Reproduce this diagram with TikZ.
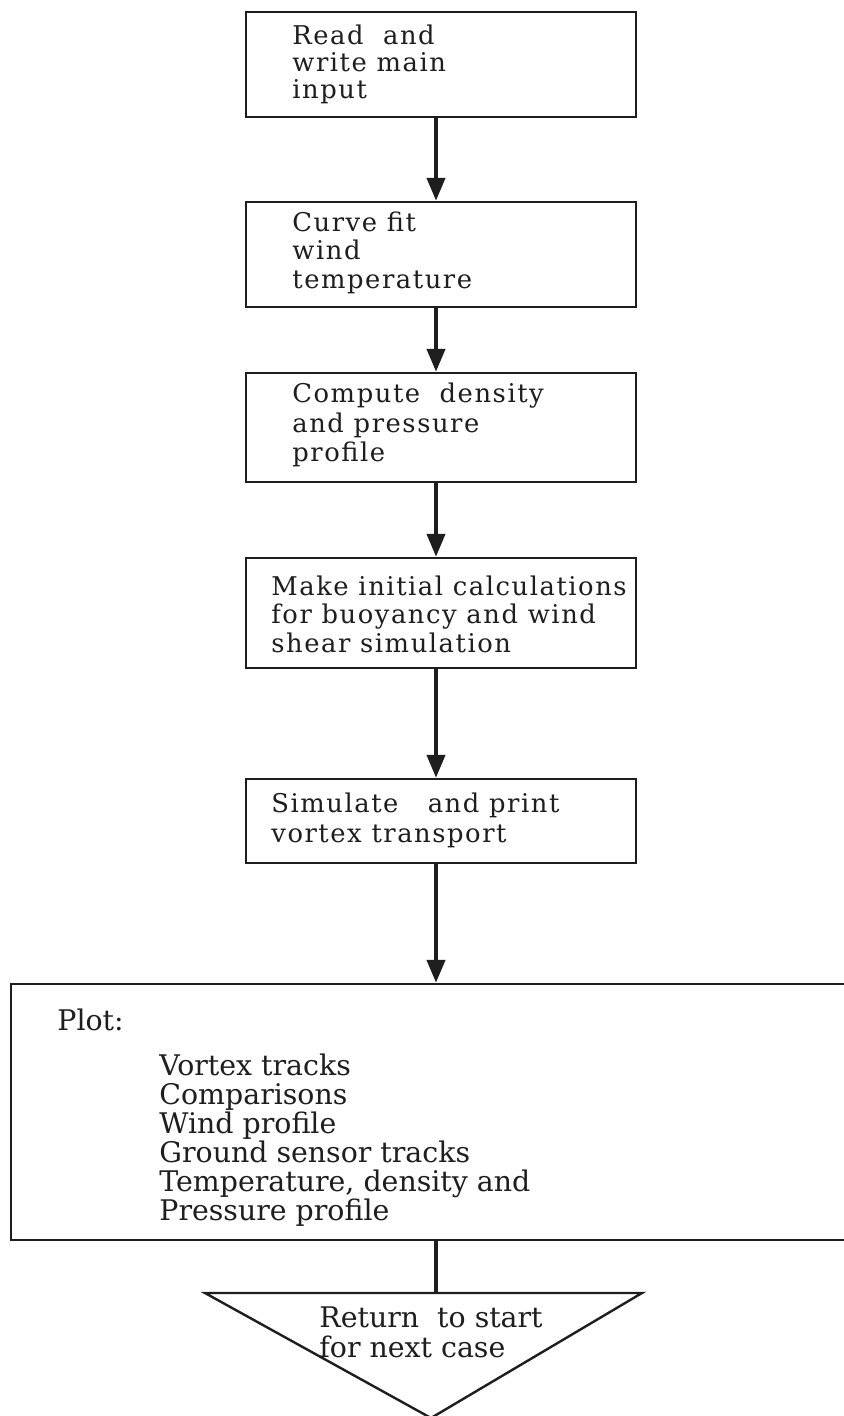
\documentclass[tikz,border=0pt]{standalone}
\usepackage{fontspec}
\usetikzlibrary{arrows.meta}
\newfontfamily\typefont[LetterSpace=6]{DejaVu Serif}
\newfontfamily\plotfont{DejaVu Serif}
\definecolor{ink}{HTML}{1E1E1E}

\tikzset{
  stepbox/.style={draw=ink, line width=1.2pt, minimum width=195pt, inner sep=0pt},
  boxtext/.style={anchor=base west, inner sep=0pt, text=ink,
    font=\typefont\fontsize{12.9}{15}\selectfont},
  plottext/.style={anchor=base west, inner sep=0pt, text=ink,
    font=\plotfont\fontsize{14.2}{16}\selectfont},
  flow/.style={draw=ink, line width=2.1pt, -{Triangle[width=9pt,length=11.5pt]}},
  link/.style={draw=ink, line width=2.1pt},
}

\begin{document}
\begin{tikzpicture}[x=0.5pt,y=-0.5pt]
  \clip (0,0) rectangle (844,1416);
  \fill[white] (0,0) rectangle (844,1416);

  % process boxes
  \node[stepbox, minimum height=52.5pt] (b1) at (441,64.5) {};
  \node[stepbox, minimum height=52.5pt] (b2) at (441,254.5) {};
  \node[stepbox, minimum height=54.5pt] (b3) at (441,427.5) {};
  \node[stepbox, minimum height=55pt]   (b4) at (441,613) {};
  \node[stepbox, minimum height=42pt]   (b5) at (441,821) {};
  \node[stepbox, minimum width=444.5pt, minimum height=128pt] (plot) at (455.5,1112) {};

  % box texts
  \node[boxtext] (r1) at (292,45) {Read\ \ and};
  \node[boxtext] (r2) at (292,72) {write main};
  \node[boxtext] (r3) at (292,99) {input};

  \node[boxtext] (c1) at (292,232) {Curve fit};
  \node[boxtext] (c2) at (292,260) {wind};
  \node[boxtext] (c3) at (292,289) {temperature};

  \node[boxtext] (d1) at (292,403) {Compute\ \ density};
  \node[boxtext] (d2) at (292,433) {and pressure};
  \node[boxtext] (d3) at (292,462) {profile};

  \node[boxtext] (m1) at (271,595) {Make initial calculations};
  \node[boxtext] (m2) at (271,623) {for buoyancy and wind};
  \node[boxtext] (m3) at (271,652) {shear\ simulation};

  \node[boxtext] (s1) at (271,812) {Simulate\ \ \ and print};
  \node[boxtext] (s2) at (271,842) {vortex transport};

  % plot list
  \node[plottext] (p0) at (57,1030) {Plot:};
  \node[plottext] (p1) at (159,1075) {Vortex tracks};
  \node[plottext] (p2) at (159,1104) {Comparisons};
  \node[plottext] (p3) at (159,1133) {Wind profile};
  \node[plottext] (p4) at (159,1162) {Ground sensor tracks};
  \node[plottext] (p5) at (159,1191) {Temperature, density and};
  \node[plottext] (p6) at (159,1220) {Pressure profile};

  % terminal triangle
  \coordinate (tl) at (205,1293);
  \coordinate (tr) at (642,1293);
  \coordinate (tb) at (431,1418);
  \coordinate (tt) at (436,1293);
  \draw[draw=ink, line width=1.2pt, line join=miter] (tl) -- (tr) -- (tb) -- cycle;
  \node[plottext] (e1) at (319,1327) {Return\ \ to start};
  \node[plottext] (e2) at (319,1357) {for next case};

  % connectors
  \coordinate (ax) at (436,0);
  \draw[flow] (b1.south -| ax) -- (b2.north -| ax);
  \draw[flow] (b2.south -| ax) -- (b3.north -| ax);
  \draw[flow] (b3.south -| ax) -- (b4.north -| ax);
  \draw[flow] (b4.south -| ax) -- (b5.north -| ax);
  \draw[flow] (b5.south -| ax) -- (plot.north -| ax);
  \draw[link] (plot.south -| tt) -- (tt);
\end{tikzpicture}
\end{document}
